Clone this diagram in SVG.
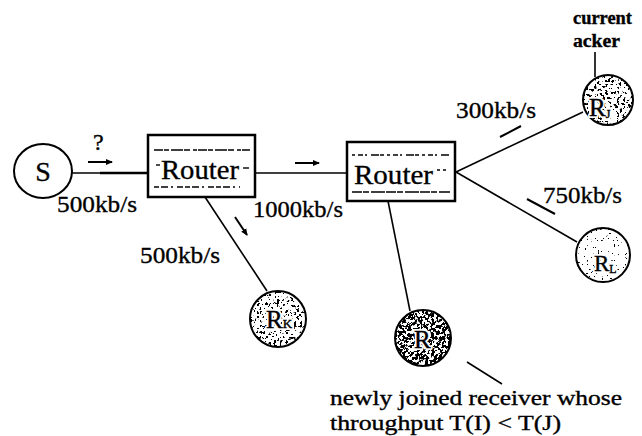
<svg xmlns="http://www.w3.org/2000/svg" width="642" height="436" viewBox="0 0 642 436">
  <style>
    .lbl { font-family: "Liberation Serif", "Times New Roman", serif; fill: #000; stroke: #000; stroke-width: 0.35; }
    .box { fill: #fff; stroke: #000; stroke-width: 2.5; }
    .ring { fill: none; stroke: #000; stroke-width: 2; }
    .link { stroke: #000; stroke-width: 1.6; fill: none; }
    .tick { stroke: #000; stroke-width: 2; fill: none; }
    .grain { stroke: #000; stroke-width: 1.4; fill: none; }
    .halo { font-family: "Liberation Serif", "Times New Roman", serif; fill: #fff; stroke: #fff; stroke-width: 4; stroke-linejoin: round; }
    .rname { font-family: "Liberation Serif", "Times New Roman", serif; fill: #000; stroke: #000; stroke-width: 0.4; }
  </style>
  <defs>
    <marker id="head" markerWidth="8" markerHeight="8" refX="6" refY="4" orient="auto" markerUnits="userSpaceOnUse">
      <path d="M0,1 L7,4 L0,7 Z" fill="#000"/>
    </marker>
    <!-- speckled fills for the receiver discs -->
    <filter id="speck-dense" x="0" y="0" width="1" height="1" color-interpolation-filters="sRGB">
      <feTurbulence type="fractalNoise" baseFrequency="0.35" numOctaves="3" seed="4"/>
      <feColorMatrix type="matrix" values="0 0 0 0 0  0 0 0 0 0  0 0 0 0 0  30 0 0 0 -14.3"/>
      <feComposite in2="SourceGraphic" operator="in"/>
    </filter>
    <filter id="speck-mid" x="0" y="0" width="1" height="1" color-interpolation-filters="sRGB">
      <feTurbulence type="fractalNoise" baseFrequency="0.35" numOctaves="3" seed="9"/>
      <feColorMatrix type="matrix" values="0 0 0 0 0  0 0 0 0 0  0 0 0 0 0  30 0 0 0 -17.6"/>
      <feComposite in2="SourceGraphic" operator="in"/>
    </filter>
    <filter id="speck-light" x="0" y="0" width="1" height="1" color-interpolation-filters="sRGB">
      <feTurbulence type="fractalNoise" baseFrequency="0.45" numOctaves="3" seed="13"/>
      <feColorMatrix type="matrix" values="0 0 0 0 0  0 0 0 0 0  0 0 0 0 0  30 0 0 0 -21.0"/>
      <feComposite in2="SourceGraphic" operator="in"/>
    </filter>
  </defs>

  <!-- links -->
  <g id="connectors">
    <line class="link" x1="72" y1="173" x2="148" y2="173"/>
    <line x1="100" y1="173" x2="148" y2="173" stroke="#000" stroke-width="2.6"/>
    <line class="link" x1="255" y1="173" x2="347" y2="173"/>
    <line class="link" x1="205" y1="197" x2="267" y2="291"/>
    <line class="link" x1="388" y1="201" x2="410" y2="311"/>
    <line class="link" x1="456" y1="172" x2="583" y2="112"/>
    <line class="link" x1="456" y1="172" x2="577" y2="242"/>
    <line class="link" x1="595" y1="52" x2="595" y2="77"/>
    <line class="link" x1="467" y1="362" x2="502" y2="384" stroke-width="2"/>
    <!-- flow direction ticks -->
    <line class="tick" x1="88" y1="162" x2="112" y2="162" stroke-width="1.6" marker-end="url(#head)"/>
    <line class="tick" x1="295" y1="163" x2="319" y2="163" stroke-width="1.6" marker-end="url(#head)"/>
    <line class="tick" x1="235" y1="217" x2="247" y2="235" stroke-width="1.6" marker-end="url(#head)"/>
    <line class="tick" x1="500" y1="137" x2="521" y2="126"/>
    <line class="tick" x1="527" y1="199" x2="555" y2="214"/>
  </g>

  <!-- source -->
  <g id="source">
    <ellipse class="ring" cx="43" cy="171" rx="29" ry="27" fill="#fff"/>
    <text class="lbl" x="43" y="181" text-anchor="middle" font-size="28">S</text>
  </g>

  <g id="router1">
    <rect class="box" x="148" y="135" width="107" height="62"/>
    <line class="grain" x1="154" y1="150" x2="250" y2="150" stroke-dasharray="9 1 5 2 12 1 6 3 4 1"/>
    <line class="grain" x1="154" y1="187" x2="240" y2="187" stroke-dasharray="5 2 7 3 2 4 6 2"/>
    <line class="grain" x1="156" y1="165" x2="160" y2="165" stroke-width="1"/>
    <line class="grain" x1="243" y1="168" x2="249" y2="168" stroke-width="1"/>
    <text class="lbl" x="161" y="179" font-size="28" textLength="78" lengthAdjust="spacingAndGlyphs">Router</text>
  </g>

  <g id="router2">
    <rect class="box" x="347" y="142" width="108" height="59"/>
    <line class="grain" x1="352" y1="155" x2="450" y2="155" stroke-dasharray="3 3 5 2 2 4 8 1 4 3"/>
    <line class="grain" x1="352" y1="192" x2="450" y2="192" stroke-dasharray="10 1 6 2 14 1"/>
    <line class="grain" x1="437" y1="170" x2="448" y2="170" stroke-width="1" stroke-dasharray="3 3"/>
    <text class="lbl" x="354" y="184" font-size="28" textLength="79" lengthAdjust="spacingAndGlyphs">Router</text>
  </g>

  <g id="receiver-j">
    <circle cx="608" cy="100" r="25" fill="#000" filter="url(#speck-mid)"/>
    <circle class="ring" cx="608" cy="100" r="25"/>
    <text class="halo" x="589" y="116" font-size="25">R<tspan font-size="12" dy="2">J</tspan></text>
    <text class="rname" x="589" y="116" font-size="25">R<tspan font-size="12" dy="2">J</tspan></text>
  </g>

  <g id="receiver-l">
    <circle cx="603" cy="255" r="27" fill="#000" filter="url(#speck-light)"/>
    <circle class="ring" cx="603" cy="255" r="27"/>
    <text class="halo" x="594" y="271" font-size="23">R<tspan font-size="12" dy="2">L</tspan></text>
    <text class="rname" x="594" y="271" font-size="23">R<tspan font-size="12" dy="2">L</tspan></text>
  </g>

  <g id="receiver-k">
    <circle cx="278" cy="319" r="28" fill="#000" filter="url(#speck-mid)"/>
    <circle class="ring" cx="278" cy="319" r="28"/>
    <text class="halo" x="266" y="328" font-size="25">R<tspan font-size="13">K</tspan></text>
    <text class="rname" x="266" y="328" font-size="25">R<tspan font-size="13">K</tspan></text>
  </g>

  <g id="receiver-i">
    <circle cx="423" cy="338" r="28" fill="#000" filter="url(#speck-dense)"/>
    <circle class="ring" cx="423" cy="338" r="28"/>
    <text class="halo" x="414" y="348" font-size="25">R</text>
    <text class="rname" x="414" y="348" font-size="25">R</text>
  </g>

  <!-- link rates and notes -->
  <g id="labels">
    <text class="lbl" x="93" y="150" font-size="24">?</text>
    <text class="lbl" x="57" y="212" font-size="24" textLength="80" lengthAdjust="spacingAndGlyphs">500kb/s</text>
    <text class="lbl" x="253" y="217" font-size="24" textLength="90" lengthAdjust="spacingAndGlyphs">1000kb/s</text>
    <text class="lbl" x="140" y="263" font-size="24" textLength="80" lengthAdjust="spacingAndGlyphs">500kb/s</text>
    <text class="lbl" x="456" y="118" font-size="24" textLength="80" lengthAdjust="spacingAndGlyphs">300kb/s</text>
    <text class="lbl" x="543" y="203" font-size="24" textLength="79" lengthAdjust="spacingAndGlyphs">750kb/s</text>
    <text class="lbl" x="573" y="24" font-size="18" font-weight="bold" textLength="59" lengthAdjust="spacingAndGlyphs">current</text>
    <text class="lbl" x="573" y="47" font-size="18" font-weight="bold" textLength="47" lengthAdjust="spacingAndGlyphs">acker</text>
    <text class="lbl" x="330" y="405" font-size="21" textLength="292" lengthAdjust="spacingAndGlyphs">newly joined receiver whose</text>
    <text class="lbl" x="330" y="430" font-size="21" textLength="231" lengthAdjust="spacingAndGlyphs">throughput T(I) &lt; T(J)</text>
  </g>
</svg>
